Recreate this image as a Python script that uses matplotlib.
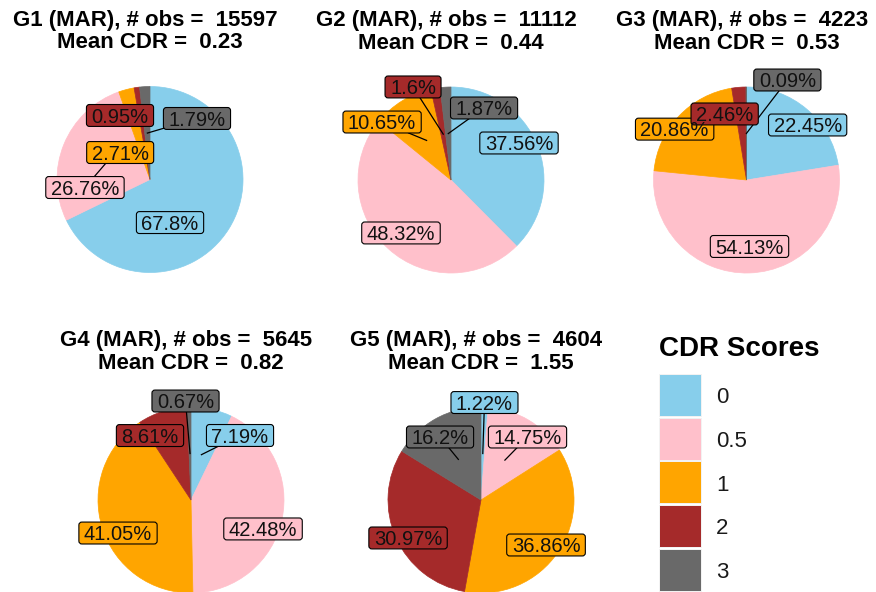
import matplotlib
matplotlib.use('Agg')
import matplotlib.pyplot as plt
from matplotlib.patches import FancyBboxPatch, Rectangle
import numpy as np

plt.rcParams['font.family'] = ['Liberation Sans', 'DejaVu Sans']

# ---------------- data ----------------
categories = ['0', '0.5', '1', '2', '3']
colors = ['#87CEEB', '#FFC0CB', '#FFA500', '#A52A2A', '#696969']
groups = ['G1', 'G2', 'G3', 'G4', 'G5']
n_obs = [15597, 11112, 4223, 5645, 4604]
mean_cdr = ['0.23', '0.44', '0.53', '0.82', '1.55']
g1_pct = [67.8, 26.76, 2.71, 0.95, 1.79]
g2_pct = [37.56, 48.32, 10.65, 1.6, 1.87]
g3_pct = [22.45, 54.13, 20.86, 2.46, 0.09]
g4_pct = [7.19, 42.48, 41.05, 8.61, 0.67]
g5_pct = [1.22, 14.75, 36.86, 30.97, 16.2]
all_pct = [g1_pct, g2_pct, g3_pct, g4_pct, g5_pct]

# ---------------- layout (pixels) ----------------
W, H, DPI = 876, 592, 100
centers = [(150, 179.5), (451, 180), (746.5, 180), (191, 500), (481, 500)]
R = 93
# repel nudges of label boxes from their anchors (px, y downward)
nudges = [
    [(-19.4, 18.4), (-22, 25.6), (-18, 18), (-23.4, -18), (49.6, -14.6)],
    [(25, -19.3), (-18.8, 18.5), (-44.5, -18.4), (-30.2, -47.2), (35.8, -25.6)],
    [(31, -19.6), (1.6, 20), (-38, -19), (-18, -19.7), (41, -53.5)],
    [(38.6, -19.2), (26.6, 19), (-28.6, 19.2), (-26.7, -20.2), (-4.5, -52.5)],
    [(1.7, -51), (22.6, -23.1), (26.4, 19.1), (-30.5, 19), (-18.3, -22.4)],
]
# whether a repel segment is drawn for each label
show_seg = [
    [False, True, False, False, True],
    [False, False, True, True, True],
    [False, False, False, False, True],
    [True, False, False, False, True],
    [True, True, False, False, True],
]

fig = plt.figure(figsize=(W / DPI, H / DPI), dpi=DPI)
fig.patch.set_facecolor('white')

pie_axes = []
for (cx, cy) in centers:
    ax = fig.add_axes([(cx - R) / W, (H - cy - R) / H, 2 * R / W, 2 * R / H])
    pie_axes.append(ax)

ov = fig.add_axes([0, 0, 1, 1])
ov.set_xlim(0, W)
ov.set_ylim(0, H)
ov.axis('off')
ov.set_zorder(10)
ov.patch.set_alpha(0)

LABEL_FS = 14.5
fs_px = LABEL_FS * DPI / 72.0
cap = 0.716 * fs_px

renderer = fig.canvas.get_renderer()

for gi, (ax, pct) in enumerate(zip(pie_axes, all_pct)):
    wedges, _ = ax.pie(pct, colors=colors, startangle=90, counterclock=False,
                       radius=1, center=(0, 0), normalize=True,
                       wedgeprops=dict(linewidth=0.5))
    for w in wedges:
        w.set_edgecolor(w.get_facecolor())
    ax.set_xlim(-1, 1)
    ax.set_ylim(-1, 1)
    ax.axis('off')

    cx, cy = centers[gi]
    # titles
    ov.text(cx - 4.5, H - (cy - 153.7),
            f'{groups[gi]} (MAR), # obs =  {n_obs[gi]}',
            ha='center', va='baseline', fontsize=16, fontweight='bold')
    ov.text(cx, H - (cy - 131.4),
            f'Mean CDR =  {mean_cdr[gi]}',
            ha='center', va='baseline', fontsize=16, fontweight='bold')

    vals = np.array(pct, dtype=float)
    frac = vals / vals.sum()
    mids = np.cumsum(frac) - frac / 2
    for k in range(len(vals)):
        theta = 2 * np.pi * mids[k]
        ax_pt = (0.5 * np.sin(theta), 0.5 * np.cos(theta))
        ancx, ancy = ax.transData.transform(ax_pt)
        dx, dy = nudges[gi][k]
        lx, ly = ancx + dx, ancy - dy
        label = f'{vals[k]:g}%'
        t = ov.text(lx, ly - cap / 2, label, ha='center', va='baseline',
                    fontsize=LABEL_FS, color='#111111', zorder=5)
        tw = t.get_window_extent(renderer).width
        bw, bh = tw + 10, cap + 7.5
        x0, y0 = lx - bw / 2, ly - bh / 2
        box = FancyBboxPatch((x0, y0), bw, bh,
                             boxstyle='round,pad=0,rounding_size=3',
                             fc=colors[k], ec='black', lw=0.8, zorder=4)
        ov.add_patch(box)
        if show_seg[gi][k]:
            # segment from anchor toward box centre, ending at box edge
            vx, vy = lx - ancx, ly - ancy
            sx = (bw / 2) / abs(vx) if vx != 0 else np.inf
            sy = (bh / 2) / abs(vy) if vy != 0 else np.inf
            te = 1 - min(sx, sy, 1)
            ov.plot([ancx, ancx + te * vx], [ancy, ancy + te * vy],
                    color='black', lw=0.9, zorder=3)

# ---------------- legend ----------------
ov.text(659, H - 356, 'CDR Scores', ha='left', va='baseline',
        fontsize=20, fontweight='bold')
key_top, pitch, ks = 375, 43.7, 41
for i, (cat, col) in enumerate(zip(categories, colors)):
    top = key_top + i * pitch
    ov.add_patch(Rectangle((659, H - top - ks - 1), ks + 2, ks + 2,
                           fc='#F2F2F2', ec='none', zorder=2))
    ov.add_patch(Rectangle((660, H - top - ks), ks, ks, fc=col, ec='none', zorder=3))
    ov.text(716, H - (top + ks / 2) - 7.9, cat, ha='left', va='baseline',
            fontsize=16, color='#1A1A1A')

fig.savefig('out.png', dpi=DPI, facecolor='white')
